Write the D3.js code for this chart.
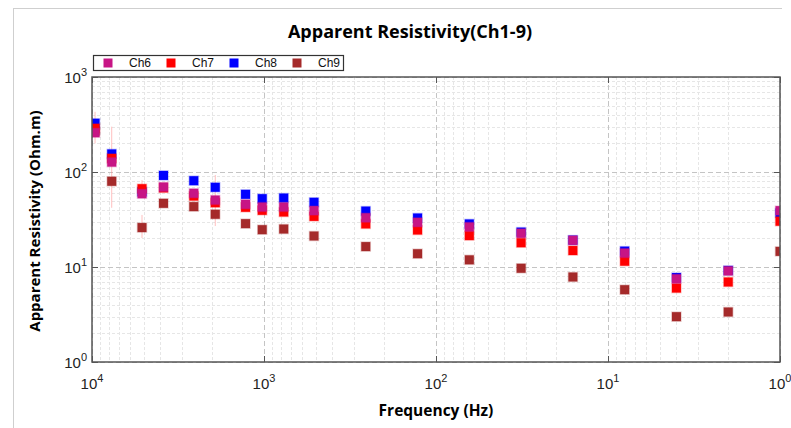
<!DOCTYPE html>
<html>
<head>
<meta charset="utf-8">
<script src="https://cdn.jsdelivr.net/npm/d3@7"></script>
<style>
  body { margin: 0; background: #fff; }
  svg { display: block; }
</style>
</head>
<body>
<div id="chart"></div>
<script>
// frequencies (Hz)
const freqs = [9600, 7680, 5120, 3840, 2560, 1920, 1280, 1024, 768, 512, 256, 128, 64, 32, 16, 8, 4, 2, 1]

// apparent resistivity per channel (Ohm.m)
const ch6 = [259, 127, 59, 69.5, 59.7, 50.7, 45.7, 42.8, 42.8, 39.2, 33, 29.5, 26.4, 22.6, 19.1, 14.0, 7.5, 9.1, 39.2]
const ch7 = [288, 139, 66.7, 68, 55.8, 47.5, 42.5, 39.5, 37.9, 34.1, 28.4, 24.5, 21.4, 18.0, 14.9, 11.5, 6.0, 6.95, 30.3]
const ch8 = [326, 155, 62, 92, 81, 69, 58.2, 52.4, 53.2, 48, 38.8, 32.8, 28.4, 23.3, 19.2, 14.7, 7.75, 9.2, 37]
const ch9 = [270, 79.8, 26, 46.8, 43.2, 35.9, 28.6, 24.7, 25.1, 21.2, 16.4, 13.8, 11.9, 9.7, 7.85, 5.77, 3.0, 3.36, 14.6]

// error bars: [channel, point index, low, high]
const errorBars = [
  ['Ch7', 0, 200, 430],
  ['Ch6', 1, 42, 300],
  ['Ch7', 2, 62, 82],
  ['Ch9', 2, 20.2, 35.3],
  ['Ch6', 5, 27, 93]
]

const xTicks = [10000, 1000, 100, 10, 1]
const xTickExp = ['4', '3', '2', '1', '0']
const yTicks = [1, 10, 100, 1000]
const yTickExp = ['0', '1', '2', '3']

const series = [
  { name: 'Ch6', values: ch6, color: '#C71585' },
  { name: 'Ch7', values: ch7, color: '#FF0000' },
  { name: 'Ch8', values: ch8, color: '#0000FF' },
  { name: 'Ch9', values: ch9, color: '#A52A2A' }
]

const svgWidth = 791
const svgHeight = 428
const margin = { top: 77, right: 11, bottom: 66, left: 92 }
const width = svgWidth - margin.left - margin.right
const height = svgHeight - margin.top - margin.bottom

const svg = d3.select('#chart')
  .append('svg')
  .attr('width', svgWidth)
  .attr('height', svgHeight)

// outer frame lines
svg.append('line')
  .attr('x1', 13).attr('x2', 782).attr('y1', 8.5).attr('y2', 8.5)
  .attr('stroke', '#cfcfcf')
svg.append('line')
  .attr('x1', 13.5).attr('x2', 13.5).attr('y1', 8).attr('y2', svgHeight)
  .attr('stroke', '#cfcfcf')

svg.append('defs').append('clipPath')
  .attr('id', 'plot-clip')
  .append('rect')
  .attr('x', 0).attr('y', 0)
  .attr('width', width).attr('height', height)

const chartGroup = svg.append('g')
  .attr('transform', `translate(${margin.left}, ${margin.top})`)

const xScale = d3.scaleLog().domain([10000, 1]).range([0, width])
const yScale = d3.scaleLog().domain([1, 1000]).range([height, 0])

// minor ticks
const minorX = []
const minorY = []
for (let e = 0; e < 4; e++) {
  for (let m = 2; m < 10; m++) minorX.push(m * Math.pow(10, e))
}
for (let e = 0; e < 3; e++) {
  for (let m = 2; m < 10; m++) minorY.push(m * Math.pow(10, e))
}

// grid
chartGroup.append('g')
  .selectAll('line')
  .data(minorX)
  .enter()
  .append('line')
  .attr('x1', d => Math.round(xScale(d)) + 0.5)
  .attr('x2', d => Math.round(xScale(d)) + 0.5)
  .attr('y1', 0).attr('y2', height)
  .attr('stroke', '#e6e6e6')
  .attr('stroke-dasharray', '3,2')

chartGroup.append('g')
  .selectAll('line')
  .data(minorY)
  .enter()
  .append('line')
  .attr('y1', d => Math.round(yScale(d)) + 0.5)
  .attr('y2', d => Math.round(yScale(d)) + 0.5)
  .attr('x1', 0).attr('x2', width)
  .attr('stroke', '#e6e6e6')
  .attr('stroke-dasharray', '3,2')

chartGroup.append('g')
  .selectAll('line')
  .data(xTicks)
  .enter()
  .append('line')
  .attr('x1', d => Math.round(xScale(d)) + 0.5)
  .attr('x2', d => Math.round(xScale(d)) + 0.5)
  .attr('y1', 0).attr('y2', height)
  .attr('stroke', '#c4c4c4')
  .attr('stroke-dasharray', '5,3')

chartGroup.append('g')
  .selectAll('line')
  .data(yTicks)
  .enter()
  .append('line')
  .attr('y1', d => Math.round(yScale(d)) + 0.5)
  .attr('y2', d => Math.round(yScale(d)) + 0.5)
  .attr('x1', 0).attr('x2', width)
  .attr('stroke', '#c4c4c4')
  .attr('stroke-dasharray', '5,3')

const plotArea = chartGroup.append('g')
  .attr('clip-path', 'url(#plot-clip)')

// error bars
plotArea.append('g')
  .selectAll('line')
  .data(errorBars)
  .enter()
  .append('line')
  .attr('x1', d => xScale(freqs[d[1]]))
  .attr('x2', d => xScale(freqs[d[1]]))
  .attr('y1', d => yScale(d[2]))
  .attr('y2', d => yScale(d[3]))
  .attr('stroke', '#ff8080')
  .attr('stroke-opacity', 0.5)
  .attr('stroke-width', 1)

// markers, drawn last channel first so Ch6 ends on top
const markerSize = 9
series.slice().reverse().forEach(function(s) {
  plotArea.append('g')
    .selectAll('rect')
    .data(s.values.map((v, i) => ({ f: freqs[i], v: v })))
    .enter()
    .append('rect')
    .attr('x', d => xScale(d.f) - markerSize / 2)
    .attr('y', d => yScale(d.v) - markerSize / 2)
    .attr('width', markerSize)
    .attr('height', markerSize)
    .attr('fill', s.color)
    .attr('stroke', s.color)
    .attr('stroke-opacity', 0.25)
    .attr('stroke-width', 1.5)
})

// frame + inward ticks
chartGroup.append('rect')
  .attr('x', 0).attr('y', 0)
  .attr('width', width).attr('height', height)
  .attr('fill', 'none')
  .attr('stroke', '#555')
  .attr('stroke-width', 1.5)

xTicks.forEach(function(t) {
  const x = Math.round(xScale(t)) + 0.5
  chartGroup.append('line').attr('x1', x).attr('x2', x).attr('y1', 0).attr('y2', 6).attr('stroke', '#555')
  chartGroup.append('line').attr('x1', x).attr('x2', x).attr('y1', height).attr('y2', height - 6).attr('stroke', '#555')
})
yTicks.forEach(function(t) {
  const y = Math.round(yScale(t)) + 0.5
  chartGroup.append('line').attr('y1', y).attr('y2', y).attr('x1', 0).attr('x2', 6).attr('stroke', '#555')
  chartGroup.append('line').attr('y1', y).attr('y2', y).attr('x1', width).attr('x2', width - 6).attr('stroke', '#555')
})

// tick labels
const tickFont = 'Liberation Sans, Arial, sans-serif'
const xLabels = chartGroup.append('g')
  .selectAll('text')
  .data(xTicks)
  .enter()
  .append('text')
  .attr('x', d => xScale(d))
  .attr('y', height + 27)
  .attr('text-anchor', 'middle')
  .attr('font-family', tickFont)
  .attr('font-size', 15)
  .attr('fill', '#222')
xLabels.append('tspan').text('10')
xLabels.append('tspan')
  .attr('dy', -7)
  .attr('font-size', 11)
  .text((d, i) => xTickExp[i])

const yLabels = chartGroup.append('g')
  .selectAll('text')
  .data(yTicks)
  .enter()
  .append('text')
  .attr('x', -5)
  .attr('y', d => yScale(d) + 6)
  .attr('text-anchor', 'end')
  .attr('font-family', tickFont)
  .attr('font-size', 15)
  .attr('fill', '#222')
yLabels.append('tspan').text('10')
yLabels.append('tspan')
  .attr('dy', -7)
  .attr('font-size', 11)
  .text((d, i) => yTickExp[i])

// titles
const titleFont = 'Open Sans, Noto Sans, sans-serif'
svg.append('text')
  .attr('x', 410)
  .attr('y', 38)
  .attr('text-anchor', 'middle')
  .attr('font-family', titleFont)
  .attr('font-weight', 'bold')
  .attr('font-size', 18)
  .text('Apparent Resistivity(Ch1-9)')

svg.append('text')
  .attr('x', 436)
  .attr('y', 416)
  .attr('text-anchor', 'middle')
  .attr('font-family', titleFont)
  .attr('font-weight', 'bold')
  .attr('font-size', 15.5)
  .text('Frequency (Hz)')

svg.append('text')
  .attr('transform', 'translate(40, 221) rotate(-90)')
  .attr('text-anchor', 'middle')
  .attr('font-family', titleFont)
  .attr('font-weight', 'bold')
  .attr('font-size', 15)
  .text('Apparent Resistivity (Ohm.m)')

// legend
const legend = svg.append('g')
legend.append('rect')
  .attr('x', 93.5).attr('y', 55.5)
  .attr('width', 250).attr('height', 15)
  .attr('fill', '#fff')
  .attr('stroke', '#333')
  .attr('stroke-width', 1.2)

const legendX = [108, 171, 234, 297]
series.forEach(function(s, i) {
  legend.append('rect')
    .attr('x', legendX[i] - 4.5).attr('y', 58.5)
    .attr('width', 9).attr('height', 9)
    .attr('fill', s.color)
  legend.append('text')
    .attr('x', legendX[i] + 21)
    .attr('y', 67)
    .attr('font-family', tickFont)
    .attr('font-size', 12)
    .attr('fill', '#111')
    .text(s.name)
})
</script>
</body>
</html>
